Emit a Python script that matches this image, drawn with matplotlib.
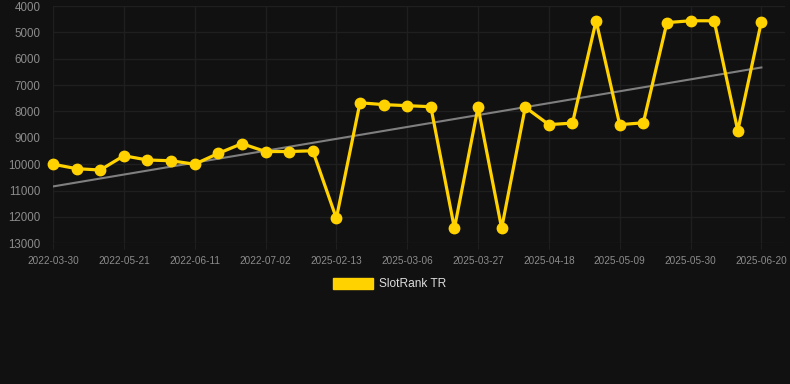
import numpy as np
import matplotlib
matplotlib.use("Agg")
import matplotlib.pyplot as plt

BG = "#111111"
GOLD = "#FFD200"
TREND = "#7f7f7f"
GRID = "#1f1f1f"
LABEL = "#8c8c8c"

dates = ["2022-03-30", "2022-04-16", "2022-05-04", "2022-05-21", "2022-05-28", "2022-06-04",
         "2022-06-11", "2022-06-18", "2022-06-25", "2022-07-02", "2022-07-09", "2022-07-16",
         "2025-02-13", "2025-02-20", "2025-02-27", "2025-03-06", "2025-03-13", "2025-03-20",
         "2025-03-27", "2025-04-03", "2025-04-10", "2025-04-18", "2025-04-25", "2025-05-02",
         "2025-05-09", "2025-05-16", "2025-05-23", "2025-05-30", "2025-06-06", "2025-06-13",
         "2025-06-20"]
rank = [10000, 10170, 10220, 9680, 9840, 9870, 10000, 9590, 9220, 9520, 9520, 9490,
        12050, 7670, 7740, 7780, 7820, 12430, 7840, 12430, 7840, 8500, 8440, 4560,
        8500, 8430, 4630, 4560, 4560, 8730, 4590]

x = np.arange(len(rank))
# linear trend through the ranks
slope, icpt = np.polyfit(x, rank, 1)
trend = slope * x + icpt

fig = plt.figure(figsize=(7.9, 3.84), dpi=100, facecolor=BG)
ax = fig.add_axes([53/790, 1 - 243.3/384, (785-53)/790, (243.3-6)/384])
ax.set_facecolor(BG)

ax.plot(x, trend, color=TREND, lw=1.5, zorder=2)
ax.plot(x, rank, color=GOLD, lw=2.3, marker="o", ms=7.5, zorder=3, clip_on=False)

ax.set_ylim(13000, 4000)
ax.set_xlim(0, 31)
ax.set_yticks(range(4000, 13001, 1000))
ax.set_xticks(x[::3])
ax.set_xticklabels(dates[::3])
ax.grid(True, color=GRID, lw=1)
for s in ax.spines.values():
    s.set_visible(False)
ax.tick_params(axis="y", length=0, pad=9, labelsize=8.3, labelcolor=LABEL)
ax.tick_params(axis="x", length=4, color=GRID, pad=5, labelsize=7.2, labelcolor=LABEL)
for lab in ax.get_xticklabels() + ax.get_yticklabels():
    lab.set_family("Liberation Sans")

# legend
fig.patches.append(plt.Rectangle((333/790, 1 - 289/384), 40/790, 11/384,
                                 transform=fig.transFigure, color=GOLD))
fig.text(379/790, 1 - 284/384, "SlotRank TR", color="#dddddd", fontsize=8.6,
         family="Liberation Sans", va="center", ha="left")

fig.savefig("out.png", dpi=100, facecolor=BG)
